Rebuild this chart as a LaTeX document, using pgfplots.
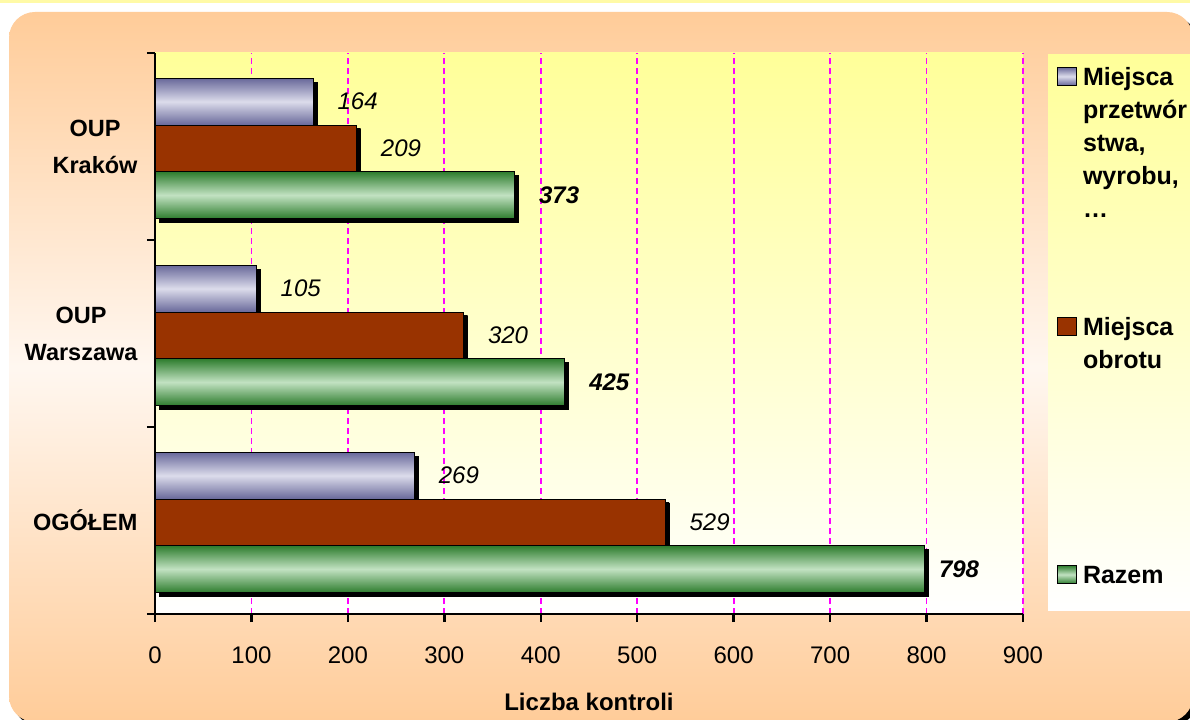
\documentclass[border=0pt]{standalone}
\usepackage{pgfplots}
\pgfplotsset{compat=1.18}
\usepackage{fontspec}
\setmainfont{Liberation Sans}
\usetikzlibrary{shadows}

\definecolor{peach}{HTML}{FFCC99}
\definecolor{peachmid}{HTML}{FFF7F0}
\definecolor{plotyel}{HTML}{FFFF99}
\definecolor{lavdark}{HTML}{68689A}
\definecolor{lavlight}{HTML}{DCDCEB}
\definecolor{brick}{HTML}{993300}
\definecolor{grdark}{HTML}{2E7D2E}
\definecolor{grlight}{HTML}{C2E2C2}
\definecolor{gridmag}{HTML}{FF00FF}

\pgfplotsset{
  bar common/.style={xbar, bar width=0.25, draw=black, line width=0.8bp,
    forget plot, point meta=x, nodes near coords,
    drop shadow={opacity=1, fill=black, top color=black, bottom color=black,
      middle color=black, shadow xshift=4bp, shadow yshift=-4bp},
    nodes near coords style={anchor=west, inner sep=0pt, xshift=24bp, text=black,
      font=\itshape\fontsize{24bp}{28bp}\selectfont}},
  lav bar/.style={bar common, bar shift=0.24,
    top color=lavdark, bottom color=lavdark, middle color=lavlight,
    nodes near coords style={yshift=44.9bp}},
  red bar/.style={bar common, bar shift=-0.01, fill=brick,
    nodes near coords style={yshift=-1.9bp}},
  green bar/.style={bar common, bar shift=-0.26,
    top color=grdark, bottom color=grdark, middle color=grlight,
    nodes near coords style={yshift=-48.6bp,
      font=\bfseries\itshape\fontsize{24bp}{28bp}\selectfont}},
}

\begin{document}
\begin{tikzpicture}
\useasboundingbox (0bp,0bp) rectangle (1190bp,720bp);
\fill[white] (0bp,0bp) rectangle (1190bp,720bp);
\fill[yellow!35] (0bp,717bp) rectangle (1190bp,720bp);
% frame with its shadow
\fill[black, rounded corners=26bp] (13bp,-6bp) rectangle (1197bp,704bp);
\shade[top color=peach, bottom color=peach, middle color=peachmid, rounded corners=26bp]
  (9bp,-2bp) rectangle (1193bp,708bp);
% legend box
\shade[top color=plotyel, bottom color=white] (1048bp,109bp) rectangle (1200bp,665bp);

\begin{axis}[
  at={(155bp,106bp)}, anchor=south west,
  scale only axis, width=868bp, height=561bp,
  xmin=0, xmax=900, ymin=-0.5, ymax=2.5,
  axis x line*=bottom, axis y line*=left,
  axis line style={line width=2.5bp, black},
  xtick={0,100,...,900},
  ytick={0,1,2},
  yticklabels={OGÓŁEM,{OUP\\Warszawa},{OUP\\Kraków}},
  minor ytick={-0.5,0.5,1.5,2.5},
  tick align=outside,
  major tick length=8bp, minor tick length=8bp,
  tick style={line width=2.5bp, black},
  major y tick style={draw=none},
  xmajorgrids,
  major grid style={draw=gridmag, dash pattern=on 6bp off 4bp, line width=1.8bp},
  axis background/.style={top color=plotyel, bottom color=white},
  /pgf/number format/assume math mode=true,
  xticklabel style={font=\fontsize{24bp}{28bp}\selectfont, yshift=-21bp},
  yticklabel style={font=\bfseries\fontsize{23.5bp}{37bp}\selectfont, align=center, xshift=-6bp},
  xlabel={Liczba kontroli},
  xlabel style={font=\bfseries\fontsize{24bp}{28bp}\selectfont,
    at={(axis description cs:0.5,0)}, anchor=base, yshift=-96bp},
  legend style={at={(1.0392,0.9756)}, anchor=north west, draw=none, fill=none,
    inner sep=0pt, row sep=0pt, column sep=6bp,
    font=\bfseries\fontsize{25bp}{33bp}\selectfont,
    nodes={inner sep=0pt}, cells={anchor=base west}},
]
% OGÓŁEM
\addplot[lav bar] coordinates {(269,0)};
\addplot[red bar] coordinates {(529,0)};
\addplot[green bar, nodes near coords style={xshift=-10bp}] coordinates {(798,0)};
% OUP Warszawa
\addplot[lav bar] coordinates {(105,1)};
\addplot[red bar] coordinates {(320,1)};
\addplot[green bar] coordinates {(425,1)};
% OUP Kraków
\addplot[lav bar] coordinates {(164,2)};
\addplot[red bar] coordinates {(209,2)};
\addplot[green bar] coordinates {(373,2)};

% legend: text sits on its last line, the marker is raised to the first line
\addlegendimage{legend image code/.code={\draw[black, line width=0.8bp,
  top color=lavdark, bottom color=lavdark, middle color=lavlight] (0bp,132bp) rectangle (19bp,150bp);}}
\addlegendentry{\parbox[b]{112bp}{Miejsca\\przetwór\\stwa,\\wyrobu,\\…}}
\addlegendimage{legend image code/.code={\draw[black, line width=0.8bp, fill=brick]
  (0bp,33bp) rectangle (19bp,51bp);}}
\addlegendentry{\parbox[b]{112bp}{\vspace*{99bp}Miejsca\\obrotu}}
\addlegendimage{legend image code/.code={\draw[black, line width=0.8bp,
  top color=grdark, bottom color=grdark, middle color=grlight] (0bp,0bp) rectangle (19bp,18bp);}}
\addlegendentry{\parbox[b]{112bp}{\vspace*{196bp}Razem}}
\end{axis}
\end{tikzpicture}
\end{document}
